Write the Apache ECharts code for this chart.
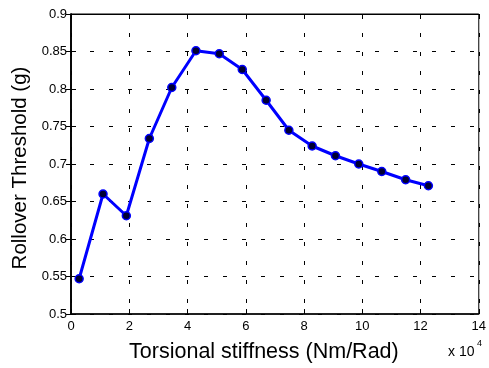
<!DOCTYPE html>
<html>
<head>
<meta charset="utf-8">
<script src="https://cdn.jsdelivr.net/npm/echarts@6/dist/echarts.min.js"></script>
<style>
  html, body { margin: 0; padding: 0; background: #fff; }
  #chart { width: 489px; height: 368px; }
</style>
</head>
<body>
<div id="chart"></div>
<script>
// stiffness in units of 1e4 Nm/Rad
const stiffness = [0.28, 1.1, 1.9, 2.69, 3.46, 4.29, 5.09, 5.88, 6.7, 7.48, 8.28, 9.08, 9.88, 10.67, 11.49, 12.27]
const threshold = [0.547, 0.66, 0.631, 0.734, 0.802, 0.851, 0.847, 0.826, 0.785, 0.745, 0.724, 0.711, 0.7, 0.69, 0.679, 0.671]
const xTicks = [0, 2, 4, 6, 8, 10, 12, 14]
const yTicks = [0.5, 0.55, 0.6, 0.65, 0.7, 0.75, 0.8, 0.85, 0.9]

const font = 'Liberation Sans, Arial, sans-serif'
const gridDash = { color: '#000', width: 1, type: [4, 15] }
const tickStyle = { show: true, inside: true, length: 5, lineStyle: { color: '#000', width: 1 } }

const chart = echarts.init(document.getElementById('chart'))

chart.setOption({
  animation: false,
  grid: {
    left: 71, right: 7, top: 14, bottom: 54,
    show: true, borderColor: '#000', borderWidth: 1
  },
  graphic: [
    {
      type: 'text', left: 448, top: 345,
      style: { text: 'x 10', font: '14px ' + font, fill: '#000' }
    },
    {
      type: 'text', left: 477, top: 339,
      style: { text: '4', font: '9px ' + font, fill: '#000' }
    }
  ],
  xAxis: [
    {
      type: 'value',
      min: xTicks[0], max: xTicks[xTicks.length - 1], interval: 2,
      name: 'Torsional stiffness (Nm/Rad)',
      nameLocation: 'middle', nameGap: 27,
      nameTextStyle: { fontSize: 21.5, color: '#000', fontFamily: font, padding: [0, 22, 0, 0] },
      axisLine: { show: true, lineStyle: { color: '#000', width: 1.5 } },
      axisTick: tickStyle,
      axisLabel: { color: '#000', fontSize: 13, fontFamily: font, margin: 6 },
      splitLine: { show: true, lineStyle: gridDash }
    },
    {
      type: 'value', position: 'top',
      min: xTicks[0], max: xTicks[xTicks.length - 1], interval: 2,
      axisLine: { show: true, lineStyle: { color: '#000', width: 1 } },
      axisTick: tickStyle,
      axisLabel: { show: false },
      splitLine: { show: false }
    }
  ],
  yAxis: [
    {
      type: 'value',
      min: yTicks[0], max: yTicks[yTicks.length - 1], interval: 0.05,
      name: 'Rollover Threshold (g)',
      nameLocation: 'middle', nameGap: 40,
      nameTextStyle: { fontSize: 20.5, color: '#000', fontFamily: font, padding: [0, 8, 0, 0] },
      axisLine: { show: true, lineStyle: { color: '#000', width: 1.5 } },
      axisTick: tickStyle,
      axisLabel: { color: '#000', fontSize: 13, fontFamily: font, margin: 4 },
      splitLine: { show: true, lineStyle: gridDash }
    },
    {
      type: 'value', position: 'right',
      min: yTicks[0], max: yTicks[yTicks.length - 1], interval: 0.05,
      axisLine: { show: true, lineStyle: { color: '#000', width: 1.5 } },
      axisTick: tickStyle,
      axisLabel: { show: false },
      splitLine: { show: false }
    }
  ],
  series: [
    {
      type: 'line',
      data: stiffness.map((x, i) => [x, threshold[i]]),
      symbol: 'circle',
      symbolSize: 8,
      lineStyle: { color: '#0000ff', width: 3 },
      itemStyle: { color: '#000033', borderColor: '#0000ff', borderWidth: 1.5 }
    }
  ]
})
</script>
</body>
</html>
